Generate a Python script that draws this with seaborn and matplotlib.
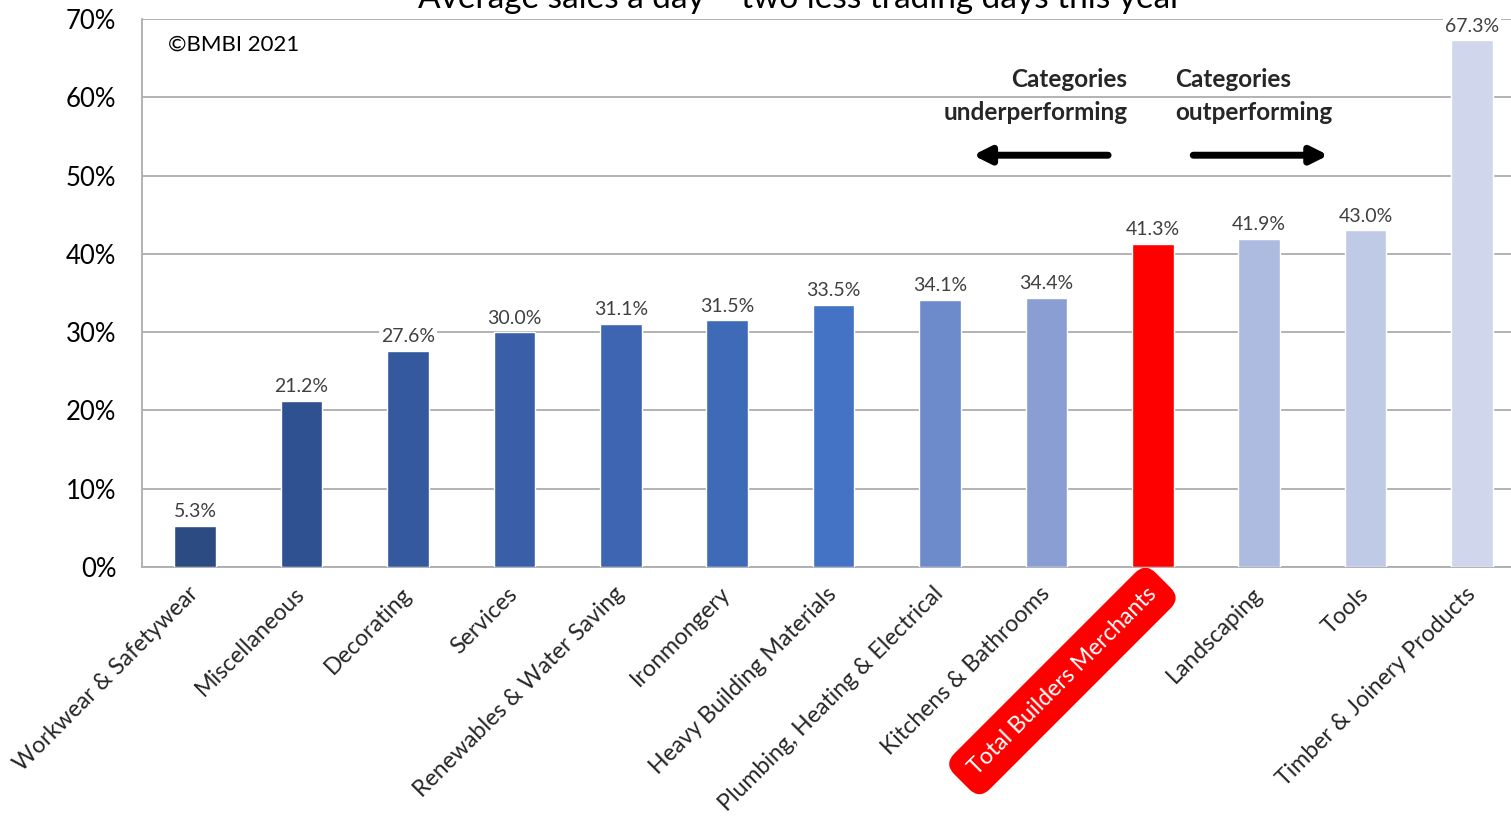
import seaborn as sns
import matplotlib.pyplot as plt
from matplotlib.patches import Rectangle
from matplotlib.ticker import FuncFormatter, FixedLocator

categories = ['Workwear & Safetywear', 'Miscellaneous', 'Decorating', 'Services',
              'Renewables & Water Saving', 'Ironmongery', 'Heavy Building Materials',
              'Plumbing, Heating & Electrical', 'Kitchens & Bathrooms',
              'Total Builders Merchants', 'Landscaping', 'Tools',
              'Timber & Joinery Products']
values = [5.3, 21.2, 27.6, 30.0, 31.1, 31.5, 33.5, 34.1, 34.4, 41.3, 41.9, 43.0, 67.3]
colors = ['#2C4B83', '#2F5191', '#34599F', '#3A5FA8', '#3D65B1', '#3F6AB8',
          '#4472C4', '#6D8ACA', '#8A9ED3', '#FF0000', '#ADBBE0', '#BFCAE6', '#D0D7EC']
title = 'Average sales a day \u2013 two less trading days this year'

sns.set_style('white')
plt.rcParams['font.family'] = ['Lato', 'DejaVu Sans']

W, H = 1511, 819
fig = plt.figure(figsize=(W / 100, H / 100), dpi=100)
ax = fig.add_axes([142 / W, 1 - 567 / H, 13 * 106.4 / W, (567 - 19) / H])

sns.barplot(x=categories, y=values, hue=categories, palette=colors,
            legend=False, width=0.39, saturation=1, ax=ax, zorder=3)

ax.set_xlim(-0.5, 12.5)
ax.set_ylim(0, 70)
ax.set_yticks(range(0, 71, 10))
ax.yaxis.set_major_formatter(FuncFormatter(lambda v, p: f'{v:.0f}%'))
ax.grid(axis='y', color='#ADADAD', lw=1.3, zorder=0)
ax.set_axisbelow(True)
for s in ['top', 'right']:
    ax.spines[s].set_visible(False)
for s in ['left', 'bottom']:
    ax.spines[s].set_color('#ADADAD')
    ax.spines[s].set_linewidth(1.3)

ax.tick_params(axis='y', length=6.5, width=1.3, color='#ADADAD',
               labelsize=18.5, pad=12, labelcolor='black')
ax.xaxis.set_minor_locator(FixedLocator([i - 0.5 for i in range(14)]))
ax.tick_params(axis='x', which='minor', length=6.5, width=1.3, color='#ADADAD')
ax.tick_params(axis='x', which='major', length=0, pad=17)
ax.set_xticks(range(len(categories)))
ax.set_xticklabels(categories, rotation=45, ha='right', va='center',
                   rotation_mode='anchor', fontsize=16.7)
for lab in ax.get_xticklabels():
    if lab.get_text() == 'Total Builders Merchants':
        lab.set_color('white')
        lab.set_bbox(dict(boxstyle='round,pad=0.6,rounding_size=0.6',
                          fc='#FF0000', ec='#FF0000'))
ax.set_xlabel('')
ax.set_ylabel('')

for cont, v in zip(ax.containers, values):
    ax.bar_label(cont, labels=[f'{v:.1f}%'], padding=4, fontsize=14,
                 color='#404040', bbox=dict(fc='white', ec='none', pad=1.5))

# white box behind the (cropped) title that hides part of the top gridline
ax.add_patch(Rectangle((554 / W, 0.985), (990 - 554) / W, 0.02,
                       transform=fig.transFigure, fc='white', ec='none',
                       zorder=5, clip_on=False))
fig.text(800 / W, 1 - 8 / H, title, ha='center', va='baseline',
         fontsize=24, color='black', zorder=6)

ax.text(-0.256, 66.7, '\u00a9BMBI 2021', ha='left', va='center',
        fontsize=16, color='black')
ax.text(8.76, 63.8, 'Categories\nunderperforming', ha='right', va='top',
        fontsize=17.5, fontweight='bold', linespacing=1.55)
ax.text(9.21, 63.8, 'Categories\noutperforming', ha='left', va='top',
        fontsize=17.5, fontweight='bold', linespacing=1.55)
arrow = dict(arrowstyle='-|>,head_length=1.0,head_width=0.5', lw=5,
             color='black', shrinkA=0, shrinkB=0)
ax.annotate('', xy=(7.31, 52.6), xytext=(8.58, 52.6), arrowprops=arrow)
ax.annotate('', xy=(10.65, 52.6), xytext=(9.38, 52.6), arrowprops=arrow)

fig.savefig('out.png', dpi=100)
